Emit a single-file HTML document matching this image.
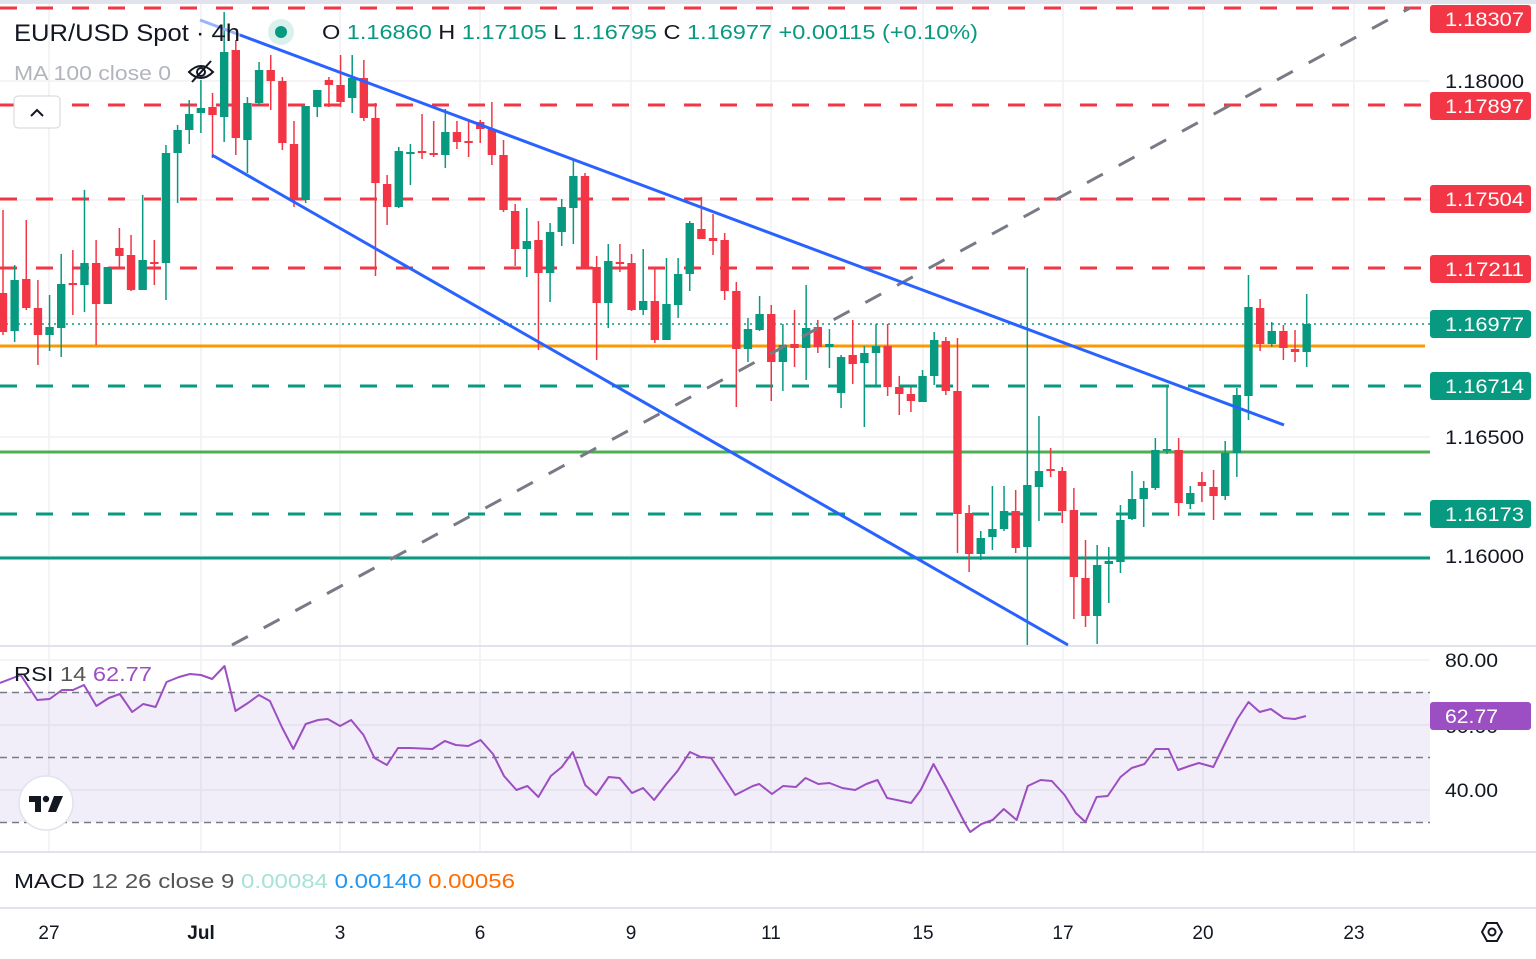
<!DOCTYPE html>
<html><head><meta charset="utf-8"><style>
html,body{margin:0;padding:0;background:#fff;}
body{width:1536px;height:954px;overflow:hidden;font-family:"Liberation Sans",sans-serif;}
svg text{font-family:"Liberation Sans",sans-serif;}
</style></head><body>
<svg id="s" width="1536" height="954" viewBox="0 0 1536 954" xmlns="http://www.w3.org/2000/svg">
<rect x="0" y="0" width="1536" height="954" fill="#fff"/>
<rect x="0" y="0" width="1536" height="4" fill="#e0e3eb"/>
<g id="grid" stroke="#f0f1f4" stroke-width="1.5"></g>
<rect x="0" y="692" width="1430" height="130" fill="#7e57c2" fill-opacity="0.1"/>
<g stroke="#787b86" stroke-width="1.5" stroke-dasharray="7 5">
<line x1="0" y1="692.5" x2="1430" y2="692.5"/>
<line x1="0" y1="757.5" x2="1430" y2="757.5"/>
<line x1="0" y1="822.5" x2="1430" y2="822.5"/>
</g>
<g stroke="#e0e3eb" stroke-width="2">
<line x1="0" y1="646" x2="1536" y2="646"/>
<line x1="0" y1="852" x2="1536" y2="852"/>
<line x1="0" y1="908" x2="1536" y2="908"/>
</g>
<g stroke-width="3" fill="none">
<line x1="0" y1="8" x2="1430" y2="8" stroke="#f23645" stroke-dasharray="17 19"/>
<line x1="0" y1="105" x2="1430" y2="105" stroke="#f23645" stroke-dasharray="17 19"/>
<line x1="0" y1="199" x2="1430" y2="199" stroke="#f23645" stroke-dasharray="17 19"/>
<line x1="0" y1="268" x2="1430" y2="268" stroke="#f23645" stroke-dasharray="17 19"/>
<line x1="0" y1="386" x2="1430" y2="386" stroke="#089981" stroke-dasharray="17 19"/>
<line x1="0" y1="514" x2="1430" y2="514" stroke="#089981" stroke-dasharray="17 19"/>
<line x1="0" y1="346" x2="1425" y2="346" stroke="#ff9800"/>
<line x1="0" y1="452" x2="1430" y2="452" stroke="#4caf50"/>
<line x1="0" y1="558" x2="1430" y2="558" stroke="#089981"/>
<line x1="0" y1="324" x2="1430" y2="324" stroke="#089981" stroke-width="1.5" stroke-dasharray="2 4"/>
</g>
<g id="candles"></g>
<line x1="232" y1="645" x2="1410" y2="8" stroke="#787b86" stroke-width="3" stroke-dasharray="18 18"/>
<line x1="200" y1="20" x2="240" y2="35" stroke="#9ab3ff" stroke-width="3"/>
<line x1="240" y1="35" x2="1284" y2="425" stroke="#2962ff" stroke-width="3"/>
<line x1="212" y1="155" x2="1068" y2="645" stroke="#2962ff" stroke-width="3"/>
<polyline id="rsi" fill="none" stroke="#9c4fc2" stroke-width="2" stroke-linejoin="round"/>
<text x="14" y="41" font-size="24" fill="#131722" textLength="226" lengthAdjust="spacingAndGlyphs">EUR/USD Spot · 4h</text>
<circle cx="281" cy="32" r="13" fill="#089981" fill-opacity="0.15"/>
<circle cx="281" cy="32" r="6" fill="#089981"/>
<text x="322" y="39" font-size="20" fill="#131722" textLength="656" lengthAdjust="spacingAndGlyphs">O <tspan fill="#089981">1.16860</tspan>  H <tspan fill="#089981">1.17105</tspan>  L <tspan fill="#089981">1.16795</tspan>  C <tspan fill="#089981">1.16977  +0.00115  (+0.10%)</tspan></text>
<text x="14" y="80" font-size="20" fill="#b2b5be" textLength="157" lengthAdjust="spacingAndGlyphs">MA 100 close 0</text>
<g stroke="#131722" stroke-width="2" fill="none"><path d="M189 72 Q201 60 213 72 Q201 84 189 72Z"/><circle cx="201" cy="72" r="4"/><line x1="192" y1="82" x2="211" y2="61"/></g>
<rect x="14" y="96" width="46" height="32" rx="4" fill="#fff" stroke="#d1d4dc"/>
<path d="M31 116 L37 110 L43 116" stroke="#131722" stroke-width="2" fill="none"/>
<text x="14" y="681" font-size="20" fill="#131722" textLength="138" lengthAdjust="spacingAndGlyphs">RSI <tspan fill="#555">14</tspan>  <tspan fill="#9c4fc2">62.77</tspan></text>
<circle cx="46" cy="803" r="27" fill="#fff" stroke="#e0e3eb" stroke-width="1.5"/>
<g fill="#131722"><rect x="29" y="796" width="12" height="6"/><rect x="35" y="796" width="6" height="16"/><circle cx="46" cy="799" r="3.2"/><path d="M54 796 L63 796 L56 812 L48 812 Z"/></g>
<text x="14" y="888" font-size="20" fill="#131722" textLength="501" lengthAdjust="spacingAndGlyphs">MACD <tspan fill="#555">12 26 close 9</tspan>  <tspan fill="#a6e3d6">0.00084</tspan>  <tspan fill="#2196f3">0.00140</tspan>  <tspan fill="#ff6d00">0.00056</tspan></text>
<g font-size="19" fill="#131722">
<text x="1445" y="88" textLength="79" lengthAdjust="spacingAndGlyphs">1.18000</text>
<text x="1445" y="444" textLength="79" lengthAdjust="spacingAndGlyphs">1.16500</text>
<text x="1445" y="563" textLength="79" lengthAdjust="spacingAndGlyphs">1.16000</text>
<text x="1445" y="667" textLength="53" lengthAdjust="spacingAndGlyphs">80.00</text>
<text x="1445" y="733" textLength="53" lengthAdjust="spacingAndGlyphs">60.00</text>
<text x="1445" y="797" textLength="53" lengthAdjust="spacingAndGlyphs">40.00</text>
</g>
<g id="labels" font-size="19" fill="#fff"></g>
<g font-size="19" fill="#131722" text-anchor="middle">
<text x="49" y="939">27</text><text x="201" y="939" font-weight="bold">Jul</text><text x="340" y="939">3</text><text x="480" y="939">6</text><text x="631" y="939">9</text><text x="771" y="939">11</text><text x="923" y="939">15</text><text x="1063" y="939">17</text><text x="1203" y="939">20</text><text x="1354" y="939">23</text>
</g>
<g fill="none" stroke="#131722" stroke-width="2"><path d="M1482 932 L1487 923 L1497 923 L1502 932 L1497 941 L1487 941 Z"/><circle cx="1492" cy="932" r="3.5"/></g>
</svg>
<script>
var NS="http://www.w3.org/2000/svg";
function el(p,t,a){var e=document.createElementNS(NS,t);for(var k in a)e.setAttribute(k,a[k]);p.appendChild(e);return e;}
var g=document.getElementById("grid");
[49,201,340,480,631,771,923,1063,1203,1354].forEach(function(x){el(g,"line",{x1:x,y1:4,x2:x,y2:852});});
[81,200,318,437,556,660,725,790].forEach(function(y){el(g,"line",{x1:0,y1:y,x2:1430,y2:y});});
var C=[
["r",293,332,210,335],["g",280,331,265,342],["r",279,308,220,310],["r",308,335,280,365],["g",327,335,295,351],["g",284,328,254,357],["r",283,285,250,315],["g",263,285,190,312],["r",263,304,240,345],["g",267,304,267,304],
["r",248,256,228,267],["r",255,290,235,291],["g",260,290,195,290],["r",262,264,240,285],["g",153,263,145,300],["g",130,153,125,203],["g",114,130,100,144],["g",108,113,80,133],["r",107,115,93,158],["g",52,117,12,142],
["r",50,138,40,155],["g",103,140,97,173],["g",70,103,62,106],["r",70,81,55,110],["r",81,143,77,150],["r",144,200,121,207],["g",106,200,106,203],["g",90,107,90,117],["r",80,85,77,107],["r",85,102,55,107],
["g",78,98,55,113],["r",78,118,60,121],["r",118,183,103,276],["r",184,207,175,225],["g",151,207,147,208],["g",152,154,144,185],["r",151,153,114,159],["r",153,155,121,157],["g",132,155,109,168],["r",132,142,121,149],
["r",141,143,119,157],["r",122,129,120,143],["r",129,155,102,165],["r",155,210,140,212],["r",211,249,204,266],["g",241,249,208,277],["r",240,273,221,350],["g",232,273,223,302],["g",207,232,199,246],["g",176,208,160,244],
["r",176,267,173,269],["r",267,303,256,360],["g",261,303,244,328],["r",262,264,244,272],["r",263,310,254,311],["g",301,310,249,315],["r",301,340,268,343],["g",304,340,258,340],["g",274,305,258,318],["g",223,274,221,291],
["r",229,239,197,239],["r",238,241,214,255],["r",240,291,233,300],["r",291,349,282,407],["g",329,349,318,362],["g",314,330,296,331],["r",314,362,305,401],["g",345,362,324,391],["r",344,348,310,367],["g",328,348,285,380],
["r",327,347,320,353],["g",344,347,329,368],["g",357,393,355,408],["r",355,364,320,384],["g",353,363,346,427],["g",346,353,324,387],["r",346,387,324,396],["r",387,394,376,415],["r",394,401,387,412],["g",376,402,370,402],
["g",340,376,332,385],["r",341,391,337,395],["r",391,514,338,553],["r",513,554,505,572],["g",538,554,531,560],["g",529,537,486,550],["g",511,529,486,531],["r",511,548,490,553],["g",485,547,268,645],["g",471,487,416,521],
["r",469,471,448,477],["r",471,511,467,523],["r",510,577,488,619],["r",578,616,540,627],["g",565,616,545,644],["g",561,564,547,603],["g",520,562,505,573],["g",499,519,471,520],["g",488,499,481,527],["g",450,488,438,490],
["g",449,451,385,454],["r",450,503,438,516],["g",493,504,486,509],["r",482,486,472,502],["r",487,496,470,520],["g",453,496,441,500],["g",395,453,388,477],["g",307,396,275,420],["r",308,344,299,351],["g",331,344,322,347],
["r",331,348,325,360],["r",349,352,330,362],["g",324,352,294,367]];
var cg=document.getElementById("candles");
C.forEach(function(c,i){var x=3+i*11.64,col=c[0]=="r"?"#f23645":"#089981";
el(cg,"line",{x1:x,y1:c[3],x2:x,y2:c[4],stroke:col,"stroke-width":1.5});
el(cg,"rect",{x:x-4.2,y:c[1],width:8.4,height:Math.max(2,c[2]-c[1]),fill:col});});
var A=[[0,683],[15,675],[27,700],[36,699],[45,690],[53,690],[61,685],[70,706],[79,698],[87,694],[96,712],[104,704],[113,707],[121,682],[130,677],[138,674],[146,675],[154,679],[163,666],[171,711],[180,703],[188,695],[196,701],[205,728],[213,749],[222,724],[231,720],[238,719],[247,726],[255,720],[264,735],[272,758],[281,765],[289,748],[298,748],[314,749],[323,741],[331,745],[340,746],[349,740],[358,754],[366,776],[375,790],[383,786],[391,797],[400,776],[408,767],[416,752],[425,785],[433,795],[442,777],[450,778],[459,793],[467,788],[475,800],[484,784],[492,771],[501,752],[509,757]];
var B=[[702,757],[707,758],[722,795],[733,786],[737,784],[745,794],[752,786],[760,787],[766,778],[774,784],[781,783],[789,788],[797,790],[804,784],[811,780],[817,798],[832,803],[838,790],[846,764],[854,787],[866,824],[869,832],[876,824],[883,820],[890,809],[898,820],[905,786],[913,780],[920,781],[928,795],[935,813],[941,822],[948,797],[955,796],[963,777],[970,768],[978,764],[985,749],[993,749],[999,770],[1006,766],[1012,763],[1021,767],[1029,741],[1036,719],[1043,702],[1050,712],[1057,709],[1065,718],[1072,719],[1079,716]];
var pts=[];A.forEach(function(p){pts.push((p[0]*1.377).toFixed(1)+","+p[1]);});
B.forEach(function(p){pts.push((700+(p[0]-700)*1.599).toFixed(1)+","+p[1]);});
document.getElementById("rsi").setAttribute("points",pts.join(" "));
var L=[[19,"1.18307","#f23645",79],[106,"1.17897","#f23645",79],[199,"1.17504","#f23645",79],[269,"1.17211","#f23645",79],[324,"1.16977","#089981",79],[386,"1.16714","#089981",79],[514,"1.16173","#089981",79],[716,"62.77","#9c4fc2",53]];
var lg=document.getElementById("labels");
L.forEach(function(l){el(lg,"rect",{x:1430,y:l[0]-14,width:101,height:28,rx:3,fill:l[2]});
var t=el(lg,"text",{x:1445,y:l[0]+7,textLength:l[3],lengthAdjust:"spacingAndGlyphs"});t.textContent=l[1];});
</script>
</body></html>
